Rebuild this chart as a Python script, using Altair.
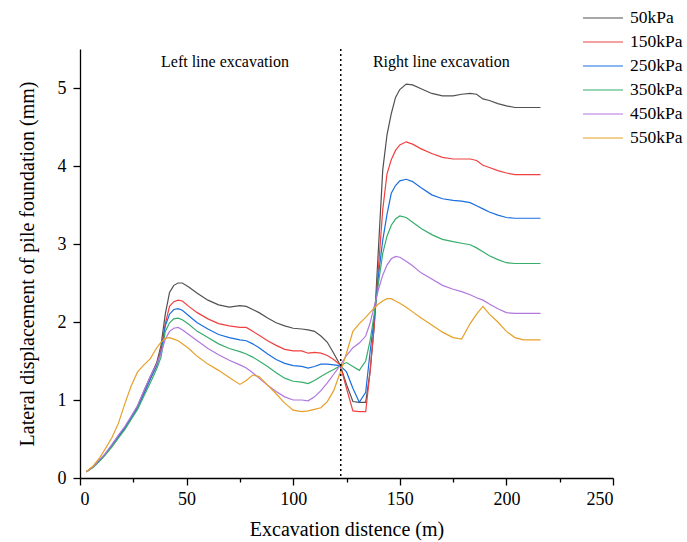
import altair as alt
import pandas as pd

# ---- data ----
x_m = [3, 6, 9, 12, 15, 18, 21, 24, 27, 30, 33, 36, 38, 40, 42, 44, 46, 48, 51, 55,
       60, 65, 70, 75, 78, 81, 84, 88, 92, 96, 100, 104, 107, 110, 113, 116, 119, 122,
       125, 128, 131, 134, 136, 138, 140, 142, 144, 146, 148, 150, 153, 156, 160, 165,
       170, 175, 179, 183, 186, 189, 192, 196, 200, 204, 208, 212, 216]

s50 = [0.08, 0.14, 0.22, 0.31, 0.42, 0.53, 0.64, 0.78, 0.92, 1.12, 1.30, 1.48, 1.70, 2.10, 2.38, 2.47, 2.50, 2.50, 2.45, 2.37,
       2.28, 2.22, 2.19, 2.21, 2.20, 2.16, 2.12, 2.05, 1.99, 1.95, 1.92, 1.91, 1.90, 1.88, 1.82, 1.74, 1.60, 1.45,
       1.20, 0.98, 0.97, 0.97, 1.35, 1.95, 2.95, 3.95, 4.40, 4.67, 4.88, 4.98, 5.05, 5.04, 4.99, 4.93,
       4.90, 4.90, 4.92, 4.93, 4.92, 4.86, 4.84, 4.80, 4.77, 4.75, 4.75, 4.75, 4.75]

s150 = [0.08, 0.14, 0.22, 0.31, 0.42, 0.53, 0.64, 0.77, 0.90, 1.10, 1.28, 1.45, 1.65, 1.98, 2.20, 2.26, 2.28, 2.27, 2.20, 2.12,
        2.04, 1.98, 1.95, 1.93, 1.93, 1.88, 1.83, 1.76, 1.70, 1.65, 1.63, 1.63, 1.60, 1.61, 1.60, 1.57, 1.52, 1.45,
        1.15, 0.86, 0.85, 0.85, 1.35, 1.95, 2.70, 3.44, 3.90, 4.08, 4.20, 4.27, 4.31, 4.28, 4.22, 4.16,
        4.11, 4.09, 4.09, 4.09, 4.07, 4.01, 3.98, 3.94, 3.91, 3.89, 3.89, 3.89, 3.89]

s250 = [0.08, 0.14, 0.22, 0.31, 0.42, 0.53, 0.64, 0.77, 0.90, 1.08, 1.27, 1.44, 1.62, 1.95, 2.10, 2.16, 2.17, 2.15, 2.08, 1.99,
        1.91, 1.84, 1.80, 1.77, 1.76, 1.72, 1.67, 1.59, 1.52, 1.47, 1.44, 1.43, 1.41, 1.43, 1.46, 1.46, 1.45, 1.44,
        1.36, 1.15, 0.97, 1.10, 1.60, 2.05, 2.60, 3.05, 3.38, 3.65, 3.75, 3.81, 3.83, 3.80, 3.72, 3.63,
        3.58, 3.56, 3.55, 3.53, 3.49, 3.45, 3.41, 3.37, 3.34, 3.33, 3.33, 3.33, 3.33]

s350 = [0.08, 0.13, 0.21, 0.30, 0.40, 0.51, 0.62, 0.75, 0.88, 1.05, 1.22, 1.40, 1.55, 1.88, 1.99, 2.04, 2.05, 2.03, 1.97, 1.88,
        1.80, 1.72, 1.66, 1.62, 1.59, 1.55, 1.50, 1.43, 1.35, 1.28, 1.24, 1.23, 1.21, 1.25, 1.30, 1.35, 1.39, 1.44,
        1.48, 1.43, 1.38, 1.50, 1.75, 2.10, 2.50, 2.88, 3.10, 3.24, 3.32, 3.36, 3.34, 3.28, 3.20, 3.12,
        3.06, 3.03, 3.01, 2.99, 2.95, 2.90, 2.85, 2.80, 2.76, 2.75, 2.75, 2.75, 2.75]

s450 = [0.08, 0.14, 0.23, 0.32, 0.43, 0.55, 0.66, 0.79, 0.93, 1.12, 1.30, 1.46, 1.60, 1.78, 1.88, 1.92, 1.93, 1.90, 1.84, 1.76,
        1.66, 1.58, 1.51, 1.45, 1.41, 1.35, 1.28, 1.19, 1.11, 1.04, 1.00, 1.00, 0.99, 1.04, 1.12, 1.22, 1.33, 1.44,
        1.57, 1.67, 1.73, 1.82, 1.98, 2.20, 2.42, 2.60, 2.73, 2.81, 2.84, 2.83, 2.78, 2.72, 2.63, 2.55,
        2.47, 2.42, 2.39, 2.35, 2.31, 2.28, 2.23, 2.17, 2.12, 2.11, 2.11, 2.11, 2.11]

s550 = [0.08, 0.15, 0.25, 0.38, 0.52, 0.70, 0.95, 1.18, 1.36, 1.45, 1.53, 1.67, 1.74, 1.79, 1.80, 1.78, 1.76, 1.72, 1.66, 1.56,
        1.46, 1.38, 1.29, 1.20, 1.25, 1.32, 1.30, 1.19, 1.08, 0.96, 0.87, 0.85, 0.86, 0.88, 0.90, 0.98, 1.12, 1.35,
        1.60, 1.88, 1.98, 2.06, 2.12, 2.18, 2.23, 2.27, 2.30, 2.30, 2.27, 2.24, 2.19, 2.13, 2.05, 1.96,
        1.87, 1.80, 1.78, 1.98, 2.10, 2.20, 2.10, 2.00, 1.88, 1.80, 1.77, 1.77, 1.77]

series_names = ["50kPa", "150kPa", "250kPa", "350kPa", "450kPa", "550kPa"]
series_colors = ["#515151", "#F14040", "#1A6FDF", "#37AD6B", "#B177DE", "#E6A028"]

divider_x = [122.3]
note_text = ["Left line excavation", "Right line excavation"]
note_x = [68, 169.5]
note_y = [5.33, 5.33]

# ---- tables ----
rows = []
for name, ys in zip(series_names, [s50, s150, s250, s350, s450, s550]):
    for xv, yv in zip(x_m, ys):
        rows.append({"x": xv, "y": yv, "series": name})
df = pd.DataFrame(rows)
df_div = pd.DataFrame({"x": divider_x})
df_note = pd.DataFrame({"x": note_x, "y": note_y, "t": note_text})

FONT = "Liberation Serif"
xscale = alt.Scale(domain=[0, 250], nice=False, zero=False)
yscale = alt.Scale(domain=[0, 5.5], nice=False, zero=False)

x_axis = alt.Axis(
    values=list(range(0, 251, 25)),
    labelExpr="datum.value % 50 === 0 ? format(datum.value, 'd') : ''",
    tickSize={"condition": {"test": "datum.value % 50 !== 0", "value": 4}, "value": 7},
    title="Excavation distence (m)",
    titlePadding=11,
    labelPadding=5,
    labelFont=FONT,
    labelFontSize=18,
    grid=False,
)
y_axis = alt.Axis(
    values=[i * 0.5 for i in range(12)],
    labelExpr="datum.value % 1 === 0 ? format(datum.value, 'd') : ''",
    tickSize={"condition": {"test": "datum.value % 1 !== 0", "value": 4}, "value": 7},
    title="Lateral displacement of pile foundation (mm)",
    titlePadding=20,
    labelPadding=7,
    labelFont=FONT,
    labelFontSize=18,
    grid=False,
)

lines = alt.Chart(df).mark_line(strokeWidth=1.2).encode(
    x=alt.X("x:Q", scale=xscale, axis=x_axis),
    y=alt.Y("y:Q", scale=yscale, axis=y_axis),
    color=alt.Color(
        "series:N",
        scale=alt.Scale(domain=series_names, range=series_colors),
        sort=series_names,
        legend=alt.Legend(
            title=None,
            orient="none",
            legendX=502,
            legendY=-43,
            symbolType="stroke",
            symbolSize=1600,
            symbolStrokeWidth=1.2,
            clipHeight=24,
            labelFont=FONT,
            labelFontSize=17.5,
            labelColor="black",
            labelOffset=6,
            rowPadding=0,
        ),
    ),
)

divider = alt.Chart(df_div).mark_rule(color="black", strokeDash=[2, 3], strokeWidth=1.5).encode(
    x=alt.X("x:Q", scale=xscale)
)

notes = alt.Chart(df_note).mark_text(font=FONT, fontSize=16, color="black").encode(
    x=alt.X("x:Q", scale=xscale),
    y=alt.Y("y:Q", scale=yscale),
    text="t:N",
)

chart = (
    alt.layer(lines, divider, notes)
    .properties(
        width=533,
        height=429,
        autosize=alt.AutoSizeParams(type="none"),
        padding={"left": 80, "top": 49, "right": 74, "bottom": 64},
        background="white",
    )
    .configure_view(stroke=None)
    .configure_axis(
        domainColor="black",
        domainWidth=1.3,
        tickColor="black",
        tickWidth=1.3,
        labelFont=FONT,
        labelFontSize=18,
        labelColor="black",
        titleFont=FONT,
        titleFontSize=20,
        titleFontWeight="normal",
        titleColor="black",
    )
)

chart.save("out.html", embed_options={"renderer": "svg", "actions": False})
